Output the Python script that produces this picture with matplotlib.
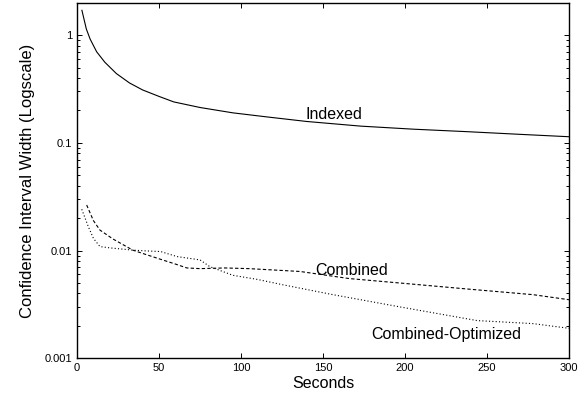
import matplotlib.pyplot as plt
import numpy as np
from matplotlib.ticker import FixedLocator, FuncFormatter, LogLocator, NullFormatter

plt.rcParams['font.family'] = ['Liberation Sans', 'DejaVu Sans']

# Data
indexed_x = [3, 5.7, 8, 12, 17, 24, 32, 40, 50, 59, 75, 95, 116, 140, 173, 205, 238, 270, 300]
indexed_y = [1.70, 1.14, 0.92, 0.70, 0.56, 0.44, 0.36, 0.31, 0.27, 0.24, 0.213, 0.19, 0.174,
             0.158, 0.143, 0.134, 0.127, 0.12, 0.114]

combined_x = [5.9, 10, 14, 22, 34, 42, 51, 60, 67, 75, 90, 105, 136, 166, 197, 238, 278, 300]
combined_y = [0.0265, 0.019, 0.0155, 0.0128, 0.0101, 0.0092, 0.0083, 0.0075, 0.0069, 0.0068,
              0.0069, 0.0068, 0.0064, 0.0055, 0.0050, 0.0044, 0.0039, 0.0035]

optimized_x = [2.9, 6.9, 10, 14, 20, 34, 44, 51, 61, 75, 81, 95, 110, 126, 156, 197, 244, 278, 300]
optimized_y = [0.0242, 0.0167, 0.0130, 0.0109, 0.0106, 0.0101, 0.0099, 0.0098, 0.0088, 0.0082,
               0.0071, 0.0059, 0.0054, 0.0048, 0.0039, 0.0030, 0.00224, 0.0021, 0.0019]

x_ticks = [0, 50, 100, 150, 200, 250, 300]
y_ticks = [0.001, 0.01, 0.1, 1]

fig = plt.figure(figsize=(5.85, 3.98), dpi=100)
ax = fig.add_axes([0.1316, 0.0997, 0.841, 0.8935])

ax.plot(indexed_x, indexed_y, color='black', linewidth=0.8)
ax.plot(combined_x, combined_y, color='black', linewidth=0.8, dashes=(3, 2))
ax.plot(optimized_x, optimized_y, color='black', linewidth=0.8, dashes=(1, 2))

ax.text(156.7, 0.185, 'Indexed', fontsize=11.5, ha='center', va='center')
ax.text(167.7, 0.0066, 'Combined', fontsize=11.5, ha='center', va='center')
ax.text(225, 0.00165, 'Combined-Optimized', fontsize=11.5, ha='center', va='center')

ax.set_yscale('log')
ax.set_xlim(0, 300)
ax.set_ylim(0.001, 2)
ax.xaxis.set_major_locator(FixedLocator(x_ticks))
ax.yaxis.set_major_locator(FixedLocator(y_ticks))
ax.yaxis.set_major_formatter(FuncFormatter(lambda v, p: '%g' % v))
ax.yaxis.set_minor_locator(LogLocator(base=10, subs=np.arange(2, 10)))
ax.yaxis.set_minor_formatter(NullFormatter())

ax.tick_params(which='both', direction='in', top=True, right=True, labelsize=8, width=0.7)
ax.tick_params(which='major', length=3.5)
ax.tick_params(which='minor', length=2)
for s in ax.spines.values():
    s.set_linewidth(1.0)

ax.set_xlabel('Seconds', fontsize=11.5, labelpad=2)
ax.set_ylabel('Confidence Interval Width (Logscale)', fontsize=12, labelpad=7)

fig.savefig('out.png', dpi=100)
